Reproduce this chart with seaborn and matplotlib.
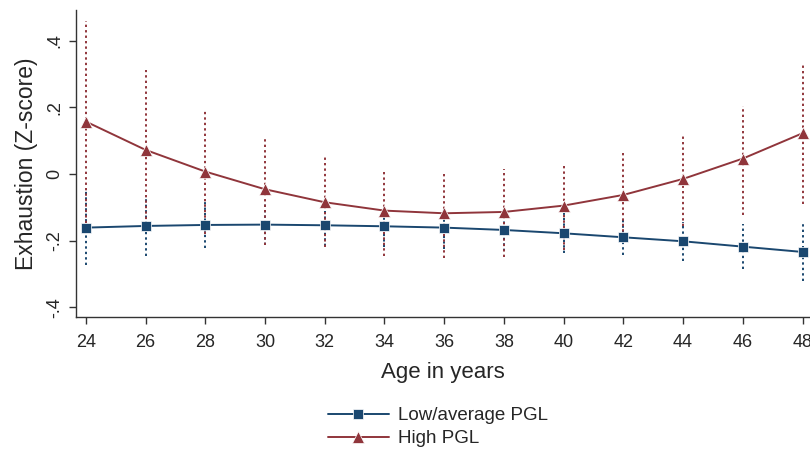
"""
Exhaustion z-score by age, split by PGL group (margins plot with 95% CIs)
"""

import pandas as pd
import matplotlib
matplotlib.use("Agg")
import matplotlib.pyplot as plt
import seaborn as sns

# data
ages = [24, 26, 28, 30, 32, 34, 36, 38, 40, 42, 44, 46, 48]

low_mean = [-0.161, -0.156, -0.153, -0.152, -0.154, -0.157, -0.161, -0.168, -0.178, -0.190, -0.202, -0.218, -0.234]
low_lo = [-0.273, -0.245, -0.223, -0.213, -0.215, -0.220, -0.226, -0.232, -0.238, -0.243, -0.260, -0.286, -0.322]
low_hi = [-0.049, -0.067, -0.083, -0.091, -0.093, -0.094, -0.096, -0.104, -0.118, -0.137, -0.144, -0.150, -0.146]

high_mean = [0.157, 0.072, 0.007, -0.046, -0.085, -0.110, -0.118, -0.114, -0.095, -0.063, -0.015, 0.046, 0.122]
high_lo = [-0.146, -0.168, -0.180, -0.213, -0.220, -0.246, -0.253, -0.250, -0.228, -0.190, -0.155, -0.123, -0.090]
high_hi = [0.460, 0.312, 0.194, 0.107, 0.052, 0.016, 0.010, 0.014, 0.032, 0.064, 0.120, 0.205, 0.334]

groups = ["Low/average PGL", "High PGL"]
y_ticks = [-0.4, -0.2, 0, 0.2, 0.4]
y_tick_labels = ["-.4", "-.2", "0", ".2", ".4"]

colors = {"Low/average PGL": "#1a476f", "High PGL": "#90353b"}
markers = {"Low/average PGL": "s", "High PGL": "^"}
marker_sizes = {"s": 6.5, "^": 8}

sns.set_style("white")
plt.rcParams['font.family'] = ['Liberation Sans', 'DejaVu Sans']


def build_frame():
    """Long-format table for seaborn"""
    low = pd.DataFrame({"age": ages, "mean": low_mean, "lo": low_lo, "hi": low_hi, "group": groups[0]})
    high = pd.DataFrame({"age": ages, "mean": high_mean, "lo": high_lo, "hi": high_hi, "group": groups[1]})
    return pd.concat([low, high], ignore_index=True)


def main():
    df = build_frame()

    fig = plt.figure(figsize=(8.1, 4.53), dpi=100)
    ax = fig.add_axes([76 / 810, 1 - 317 / 453, 1 - 76 / 810, (317 - 9.5) / 453])

    # dotted confidence spikes first, so the lines sit on top
    for g in groups:
        sub = df[df["group"] == g]
        ax.vlines(sub["age"], sub["lo"], sub["hi"], colors=colors[g],
                  linewidth=1.4, linestyles=(0, (1.2, 1.6)), zorder=1)

    sns.lineplot(data=df, x="age", y="mean", hue="group", style="group",
                 hue_order=groups, style_order=groups,
                 palette=colors, markers=markers, dashes=False,
                 markersize=7, linewidth=1.4, markeredgewidth=0.5,
                 markeredgecolor="white", ax=ax, zorder=3)

    # squares a touch smaller than triangles, like the original
    for ln in ax.lines:
        m = ln.get_marker()
        if m in marker_sizes:
            ln.set_markersize(marker_sizes[m])

    ax.set_xlim(23.67, 48.25)
    ax.set_ylim(-0.429, 0.493)
    ax.set_xticks(ages)
    ax.set_yticks(y_ticks)
    ax.set_yticklabels(y_tick_labels, rotation=90, va="center")

    for s in ["top", "right"]:
        ax.spines[s].set_visible(False)
    for s in ["left", "bottom"]:
        ax.spines[s].set_color("#333333")
        ax.spines[s].set_linewidth(1.0)

    ax.tick_params(axis="both", which="major", direction="out", length=5,
                   width=1.0, color="#333333", pad=4, bottom=True, left=True)
    ax.tick_params(axis="x", labelsize=13, pad=7)
    ax.tick_params(axis="y", labelsize=13)

    ax.set_xlabel("Age in years", fontsize=16, labelpad=8)
    ax.set_ylabel("Exhaustion (Z-score)", fontsize=16.5, labelpad=6)

    handles, labels = ax.get_legend_handles_labels()
    for h in handles:
        m = h.get_marker()
        if m in marker_sizes:
            h.set_markersize(marker_sizes[m] + 0.5)
    ax.legend(handles, labels, loc="upper left", bbox_to_anchor=(328 / 810, 1 - 407 / 453),
              bbox_transform=fig.transFigure, frameon=False, fontsize=13.5,
              handlelength=3.25, handletextpad=0.5, labelspacing=0.33,
              borderpad=0, borderaxespad=0)

    fig.savefig("out.png", dpi=100)
    plt.close(fig)


if __name__ == "__main__":
    main()
